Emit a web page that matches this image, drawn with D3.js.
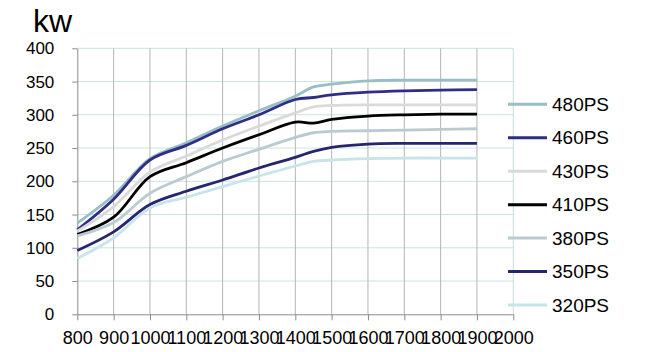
<!DOCTYPE html>
<html>
<head>
<meta charset="utf-8">
<script src="https://cdn.jsdelivr.net/npm/d3@7"></script>
<style>
  body { margin:0; background:#fff; }
  svg { font-family: "Liberation Sans", Arial, sans-serif; }
</style>
</head>
<body>
<svg id="drawing_region"></svg>
<script>
// engine speed (rpm) where the curves were read
const rpm = [800, 900, 1000, 1100, 1200, 1300, 1400, 1450, 1500, 1600, 1700, 1800, 1900];

const kw480 = [137, 179, 234, 258, 283, 306, 328, 342, 346, 351, 352, 352, 352];
const kw460 = [127, 173, 232, 254, 279, 300, 323, 326, 330, 334, 336, 337, 338];
const kw430 = [125, 162, 214, 238, 262, 283, 303, 312, 314, 315, 315, 315, 315];
const kw410 = [120, 146, 207, 228, 250, 270, 289, 287.5, 293, 298, 300, 301, 301];
const kw380 = [118, 138, 182, 207, 230, 248, 266, 273, 275, 276, 277, 278, 279];
const kw350 = [96, 124, 165, 185, 202, 220, 236, 245, 251, 256, 257, 257, 257];
const kw320 = [84, 115, 160, 176, 192, 208, 223, 230, 232, 234, 235, 235, 235];

const names = ["480PS", "460PS", "430PS", "410PS", "380PS", "350PS", "320PS"];
const colors = ["#97bfc4", "#2e2e86", "#dadada", "#000000", "#b9cbd0", "#26266e", "#c6e4e9"];

const xTicks = [800, 900, 1000, 1100, 1200, 1300, 1400, 1500, 1600, 1700, 1800, 1900, 2000];
const yTicks = [0, 50, 100, 150, 200, 250, 300, 350, 400];

const series = [kw480, kw460, kw430, kw410, kw380, kw350, kw320].map((vals, i) => ({
    name: names[i],
    color: colors[i],
    values: vals.map((v, j) => ({x: rpm[j], y: v}))
}));

const width = 650, height = 352;
const plot = {left: 77.3, right: 513.3, top: 48.3, bottom: 314.3};

const svg = d3.select("#drawing_region")
    .attr("width", width)
    .attr("height", height);

const x = d3.scaleLinear().domain([800, 2000]).range([plot.left, plot.right]);
const y = d3.scaleLinear().domain([0, 400]).range([plot.bottom, plot.top]);

// horizontal grid
svg.append("g")
    .selectAll("line")
    .data(yTicks.filter(d => d > 0))
    .join("line")
    .attr("x1", plot.left)
    .attr("x2", plot.right)
    .attr("y1", d => y(d))
    .attr("y2", d => y(d))
    .attr("stroke", "#c9e3e6")
    .attr("stroke-width", 1);

// vertical grid
svg.append("g")
    .selectAll("line")
    .data(xTicks.filter(d => d > 800))
    .join("line")
    .attr("x1", d => x(d))
    .attr("x2", d => x(d))
    .attr("y1", plot.top)
    .attr("y2", plot.bottom)
    .attr("stroke", d => d == 2000 ? "#c9dde0" : "#b4b4b4")
    .attr("stroke-width", 1);

// axes
const yAxis = svg.append("g")
    .attr("transform", `translate(${plot.left},0)`)
    .call(d3.axisLeft(y).tickValues(yTicks).tickSize(5).tickSizeOuter(0).tickPadding(18));

const xAxis = svg.append("g")
    .attr("transform", `translate(0,${plot.bottom})`)
    .call(d3.axisBottom(x).tickValues(xTicks).tickSize(6).tickSizeOuter(0).tickPadding(11).tickFormat(d3.format("d")));

[yAxis, xAxis].forEach(ax => {
    ax.select(".domain").attr("stroke", "#8c8c8c");
    ax.selectAll(".tick line").attr("stroke", "#8c8c8c");
    ax.selectAll("text").attr("fill", "#000").attr("font-family", "Liberation Sans, Arial, sans-serif");
});
yAxis.selectAll("text").attr("font-size", 17);
xAxis.selectAll("text").attr("font-size", 18);

// lines
const line = d3.line()
    .x(d => x(d.x))
    .y(d => y(d.y))
    .curve(d3.curveCatmullRom.alpha(0.5));

svg.append("g")
    .selectAll("path")
    .data(series)
    .join("path")
    .attr("d", d => line(d.values))
    .attr("fill", "none")
    .attr("stroke", d => d.color)
    .attr("stroke-width", 2.8)
    .attr("stroke-linejoin", "round");

// legend
const legend = svg.append("g")
    .selectAll("g")
    .data(series)
    .join("g")
    .attr("transform", (d, i) => `translate(508,${104.3 + i * 33.45})`);

legend.append("line")
    .attr("x1", 0)
    .attr("x2", 39)
    .attr("stroke", d => d.color)
    .attr("stroke-width", 3);

legend.append("text")
    .attr("x", 44)
    .attr("dy", "0.35em")
    .attr("font-size", 19)
    .text(d => d.name);

// unit title
svg.append("text")
    .attr("x", 33)
    .attr("y", 32)
    .attr("font-size", 32)
    .text("kw");
</script>
</body>
</html>
